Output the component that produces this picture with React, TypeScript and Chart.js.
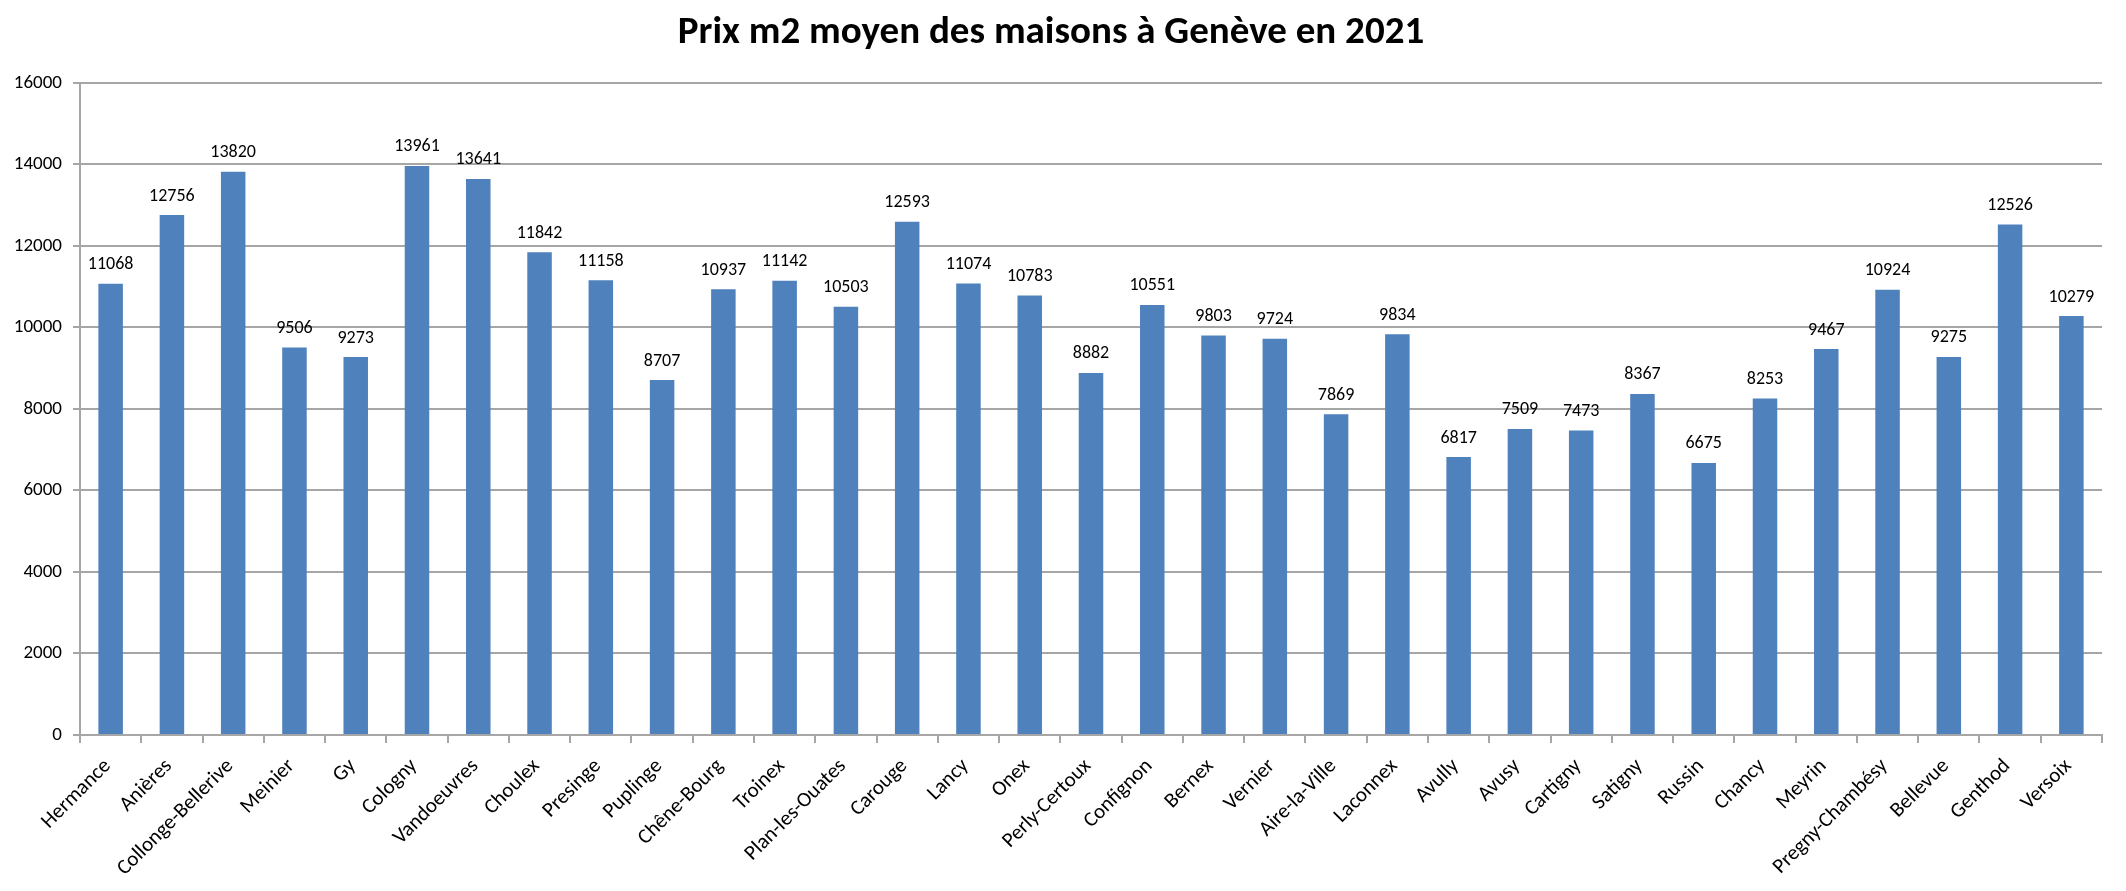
import React, { useEffect, useRef } from "react";
import { Chart, registerables } from "chart.js";

Chart.register(...registerables);

const categories: string[] = [
  "Hermance", "Anières", "Collonge-Bellerive", "Meinier", "Gy", "Cologny", "Vandoeuvres",
  "Choulex", "Presinge", "Puplinge", "Chêne-Bourg", "Troinex", "Plan-les-Ouates", "Carouge",
  "Lancy", "Onex", "Perly-Certoux", "Confignon", "Bernex", "Vernier", "Aire-la-Ville",
  "Laconnex", "Avully", "Avusy", "Cartigny", "Satigny", "Russin", "Chancy", "Meyrin",
  "Pregny-Chambésy", "Bellevue", "Genthod", "Versoix",
];

const prices: number[] = [
  11068, 12756, 13820, 9506, 9273, 13961, 13641,
  11842, 11158, 8707, 10937, 11142, 10503, 12593,
  11074, 10783, 8882, 10551, 9803, 9724, 7869,
  9834, 6817, 7509, 7473, 8367, 6675, 8253, 9467,
  10924, 9275, 12526, 10279,
];

const title = "Prix m2 moyen des maisons à Genève en 2021";
const yMin = 0;
const yMax = 16000;
const yStep = 2000;

const FONT = "Carlito, Lato, 'Liberation Sans', sans-serif";
const GRID = "#a6a6a6";

const valueLabels = {
  id: "valueLabels",
  afterDatasetsDraw(chart: any) {
    const ctx = chart.ctx;
    const meta = chart.getDatasetMeta(0);
    const data = chart.data.datasets[0].data as number[];
    ctx.save();
    ctx.font = `18px ${FONT}`;
    ctx.fillStyle = "#000";
    ctx.textAlign = "center";
    ctx.textBaseline = "bottom";
    meta.data.forEach((bar: any, i: number) => {
      ctx.fillText(String(data[i]), bar.x, bar.y - 10);
    });
    ctx.restore();
  },
};

export default function App() {
  const ref = useRef<HTMLCanvasElement | null>(null);
  useEffect(() => {
    document.body.style.margin = "0";
    const canvas = ref.current!;
    const chart = new Chart(canvas, {
      type: "bar",
      data: {
        labels: categories,
        datasets: [
          {
            data: prices,
            backgroundColor: "#4f81bd",
            barPercentage: 0.4,
            categoryPercentage: 1,
          },
        ],
      },
      options: {
        animation: false,
        responsive: false,
        maintainAspectRatio: false,
        layout: { padding: { left: 0, right: 24, top: 0, bottom: 0 } },
        plugins: {
          legend: { display: false },
          tooltip: { enabled: false },
          title: {
            display: true,
            text: title,
            color: "#000",
            font: { family: FONT, size: 39, weight: "bold" },
            padding: { top: 10, bottom: 26 },
          },
        },
        scales: {
          x: {
            grid: {
              offset: true,
              drawOnChartArea: false,
              drawTicks: true,
              tickLength: 8,
              color: GRID,
              lineWidth: 2,
            },
            border: { color: GRID, width: 2 },
            ticks: {
              color: "#000",
              font: { family: FONT, size: 21 },
              maxRotation: 45,
              minRotation: 45,
              autoSkip: false,
              labelOffset: -3,
              padding: 11,
            },
            afterFit(scale: any) {
              scale.height = 156;
            },
          },
          y: {
            min: yMin,
            max: yMax,
            ticks: {
              stepSize: yStep,
              color: "#000",
              font: { family: FONT, size: 19 },
              padding: 11,
              callback: (v: any) => String(v),
            },
            grid: {
              color: GRID,
              lineWidth: 2,
              tickLength: 7,
            },
            border: { color: GRID, width: 2 },
            afterFit(scale: any) {
              scale.width = 80;
            },
          },
        },
      },
      plugins: [valueLabels],
    });
    return () => chart.destroy();
  }, []);
  return (
    <div style={{ width: 2126, height: 891, background: "#fff" }}>
      <canvas ref={ref} width={2126} height={891} style={{ display: "block" }} />
    </div>
  );
}
